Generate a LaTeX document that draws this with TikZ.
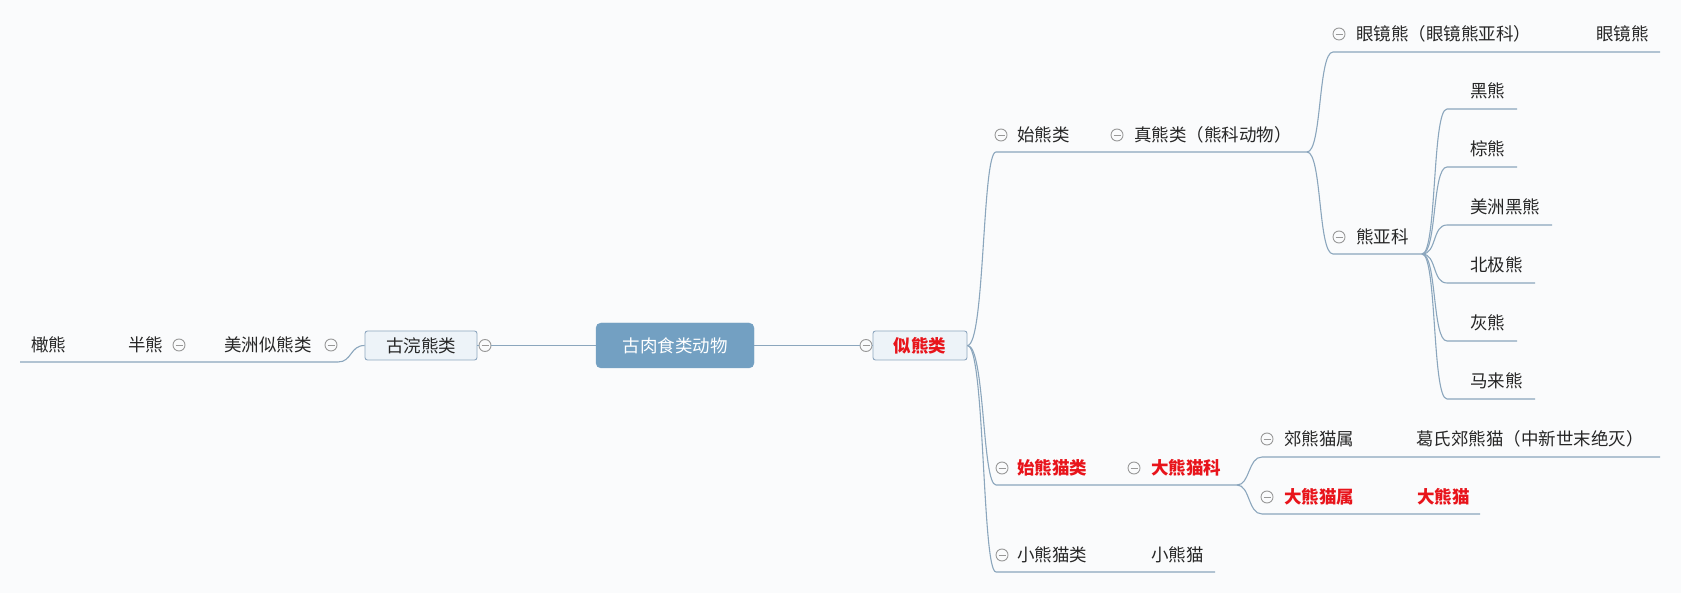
\documentclass[tikz,border=0pt]{standalone}
\usepackage{fontspec}
\newfontfamily\cjk{Noto Sans CJK SC}
\definecolor{bgcol}{HTML}{FAFBFC}
\definecolor{linecol}{HTML}{8BA6BD}
\definecolor{txtcol}{HTML}{262626}
\definecolor{redcol}{HTML}{E8141B}
\definecolor{rootcol}{HTML}{73A0C2}
\definecolor{boxfill}{HTML}{EDF3F8}
\definecolor{boxdraw}{HTML}{8EA7BF}
\definecolor{togcol}{HTML}{999999}
\tikzset{
  txt/.style={anchor=west, inner sep=0pt, font=\cjk\fontsize{17.5}{17.5}\selectfont, text=txtcol},
  redtxt/.style={txt, text=redcol, font=\cjk\bfseries\fontsize{17.5}{17.5}\selectfont},
  conn/.style={draw=linecol, line width=1.1pt},
  tog/.style={circle, draw=togcol, line width=0.9pt, minimum size=12pt, inner sep=0pt, fill=bgcol,
    path picture={\draw[togcol, line width=0.9pt] ([xshift=2.5pt]path picture bounding box.west) -- ([xshift=-2.5pt]path picture bounding box.east);}},
  rootbox/.style={rounded corners=5pt, fill=rootcol, draw=rootcol, minimum width=158pt, minimum height=45pt, inner sep=0pt, text=white, font=\cjk\fontsize{17.5}{17.5}\selectfont},
  mainbox/.style={rounded corners=2.5pt, fill=boxfill, draw=boxdraw, line width=0.9pt, minimum height=29pt, inner sep=0pt, font=\cjk\fontsize{17.5}{17.5}\selectfont, text=txtcol},
}
\begin{document}
\begin{tikzpicture}[x=1pt, y=-1pt]
\fill[bgcol] (0,0) rectangle (1681,593);
\useasboundingbox (0,0) rectangle (1681,593);

% central
\node[rootbox] (root) at (675,345.5) {古肉食类动物};
\node[mainbox, minimum width=94pt, text=redcol, font=\cjk\bfseries\fontsize{17.5}{17.5}\selectfont] (sxl) at (920,345.5) {似熊类};
\node[mainbox, minimum width=112pt] (ghx) at (421,345.5) {古浣熊类};

% toggles on main line
\node[tog] (tsxl) at (866,345.5) {};
\node[tog] (tghx) at (485,345.5) {};
\draw[conn] (root.east) -- (tsxl.west);
\draw[conn] (tsxl.east) -- (sxl.west);
\draw[conn] (root.west) -- (tghx.east);
\draw[conn] (tghx.west) -- (ghx.east);

% left branch
\coordinate (lstart) at (338,362);
\coordinate (lend) at (20,362);
\draw[conn] (ghx.west) .. controls (350,345.5) and (352,362) .. (lstart) -- (lend);
\node[txt] (mzsxl) at (224,345) {美洲似熊类};
\node[tog] (tmz) at (331,345) {};
\node[txt] (bx) at (128,345) {半熊};
\node[tog] (tbx) at (179,345) {};
\node[txt] (gx) at (31,345) {橄熊};

% right branch: 始熊类
\coordinate (sx0) at (996,152);
\coordinate (sx1) at (1307,152);
\draw[conn] (sxl.east) .. controls (985,345.5) and (982,152) .. (sx0) -- (sx1);
\node[tog] (tsx) at (1001,135) {};
\node[txt] (sx) at (1017,135) {始熊类};
\node[tog] (tzx) at (1117,135) {};
\node[txt] (zx) at (1134,135) {真熊类（熊科动物）};

% 眼镜熊
\coordinate (yj0) at (1333,52);
\coordinate (yj1) at (1660,52);
\draw[conn] (sx1) .. controls (1322,152) and (1318,52) .. (yj0) -- (yj1);
\node[tog] (tyj) at (1339,34) {};
\node[txt] (yjk) at (1356,34) {眼镜熊（眼镜熊亚科）};
\node[txt] (yj) at (1596,34) {眼镜熊};

% 熊亚科
\coordinate (xy0) at (1333,254);
\coordinate (xy1) at (1422,254);
\draw[conn] (sx1) .. controls (1322,152) and (1318,254) .. (xy0) -- (xy1);
\node[tog] (txy) at (1339,237) {};
\node[txt] (xy) at (1356,237) {熊亚科};

\foreach \nm/\yy/\xe/\lab in {hx/109/1517/黑熊, zz/167/1517/棕熊, mh/225/1552/美洲黑熊, bj/283/1535/北极熊, hu/341/1517/灰熊, ml/399/1535/马来熊}{
  \coordinate (\nm0) at (1447,\yy);
  \coordinate (\nm1) at (\xe,\yy);
  \draw[conn] (xy1) .. controls (1437,254) and (1432,\yy) .. (\nm0) -- (\nm1);
  \node[txt] (\nm) at (1470,\yy-18) {\lab};
}

% 始熊猫类
\coordinate (sm0) at (996,485);
\coordinate (sm1) at (1237,485);
\draw[conn] (sxl.east) .. controls (985,345.5) and (982,485) .. (sm0) -- (sm1);
\node[tog] (tsm) at (1002,468) {};
\node[txt, redtxt] (sm) at (1017,468) {始熊猫类};
\node[tog] (tdk) at (1134,468) {};
\node[txt, redtxt] (dk) at (1151,468) {大熊猫科};

\coordinate (jx0) at (1262,457);
\coordinate (jx1) at (1660,457);
\draw[conn] (sm1) .. controls (1250,485) and (1248,457) .. (jx0) -- (jx1);
\node[tog] (tjx) at (1267,439) {};
\node[txt] (jx) at (1284,439) {郊熊猫属};
\node[txt] (gs) at (1416,439) {葛氏郊熊猫（中新世末绝灭）};

\coordinate (dx0) at (1262,514);
\coordinate (dx1) at (1480,514);
\draw[conn] (sm1) .. controls (1250,485) and (1248,514) .. (dx0) -- (dx1);
\node[tog] (tdx) at (1267,497) {};
\node[txt, redtxt] (dx) at (1284,497) {大熊猫属};
\node[txt, redtxt] (dxm) at (1417,497) {大熊猫};

% 小熊猫类
\coordinate (xm0) at (996,572);
\coordinate (xm1) at (1215,572);
\draw[conn] (sxl.east) .. controls (985,345.5) and (982,572) .. (xm0) -- (xm1);
\node[tog] (txm) at (1002,555) {};
\node[txt] (xm) at (1017,555) {小熊猫类};
\node[txt] (xmm) at (1151,555) {小熊猫};
\end{tikzpicture}
\end{document}
